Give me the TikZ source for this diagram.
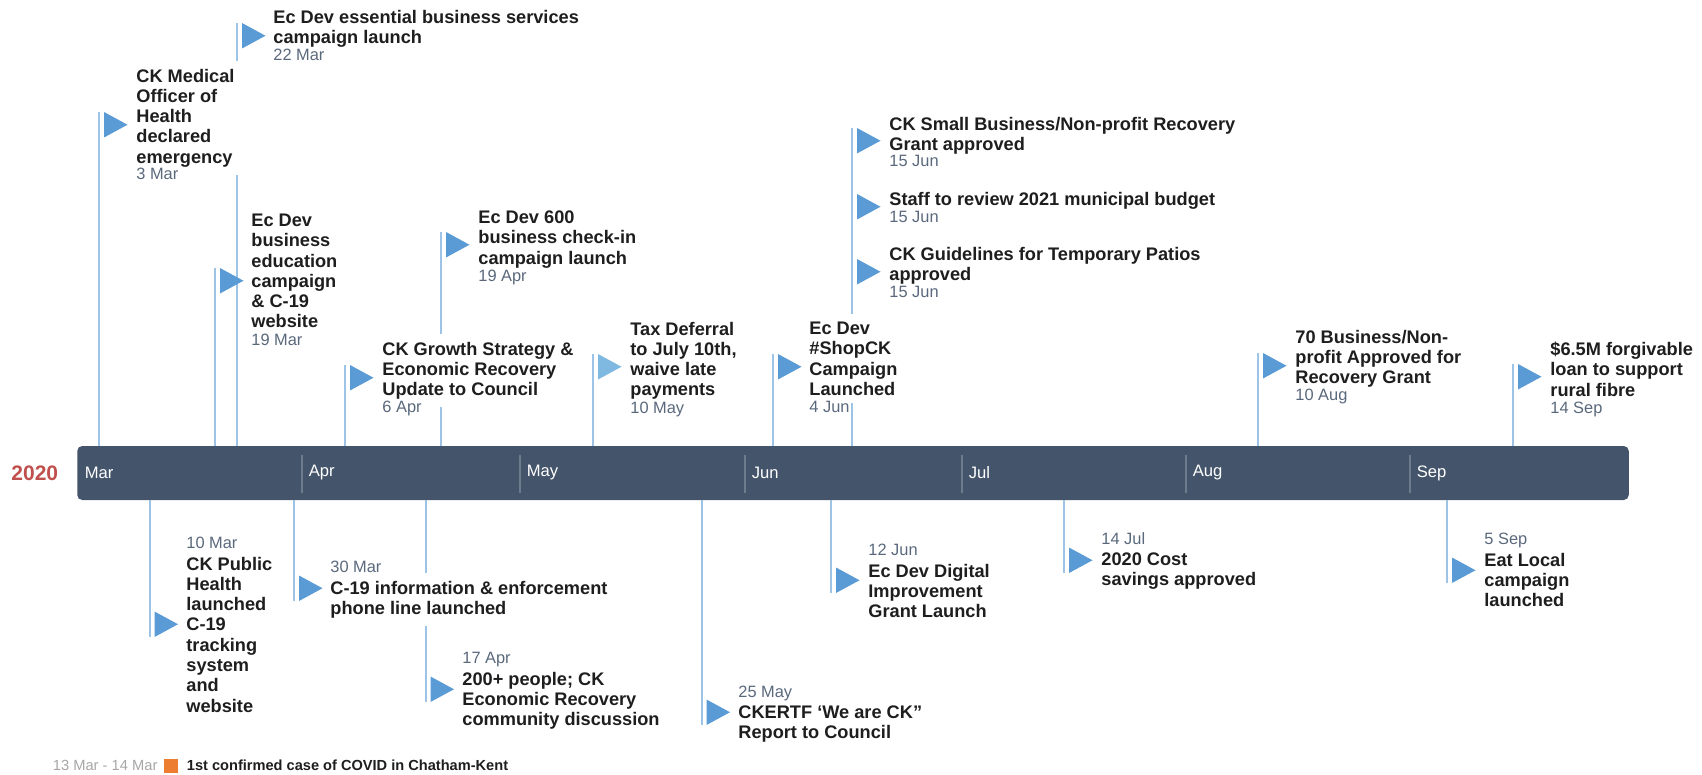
\documentclass[tikz,border=0pt]{standalone}
\usepackage{fontspec}
\setmainfont{Liberation Sans}
\usepackage{tikz}
\definecolor{barslate}{HTML}{44546A}
\definecolor{sepgray}{HTML}{6E7B8D}
\definecolor{yearred}{HTML}{C0504D}
\definecolor{stemblue}{HTML}{9DC3E6}
\definecolor{flagblue}{HTML}{5B9BD5}
\definecolor{flaglight}{HTML}{7FB8E0}
\definecolor{titleblack}{HTML}{1E1E1E}
\definecolor{dategray}{HTML}{5A687C}
\definecolor{legendgray}{HTML}{A6A6A6}
\definecolor{legendorange}{HTML}{ED7D31}

\begin{document}
\begin{tikzpicture}[x=0.5pt, y=-0.5pt]
\tikzstyle{barStyle} = [fill=barslate, rounded corners=2.5pt, minimum width=775.75pt, minimum height=27pt, inner sep=0pt]
\tikzstyle{sepStyle} = [line width=0.6pt, color=sepgray]
\tikzstyle{monthStyle} = [anchor=west, inner sep=0pt, text=white, font=\fontsize{8.3}{10}\selectfont]
\tikzstyle{yearStyle} = [anchor=west, inner sep=0pt, text=yearred, font=\fontsize{10.5}{12}\selectfont\bfseries]
\tikzstyle{stemStyle} = [line width=1pt, color=stemblue]
\tikzstyle{flagStyle} = [fill=flagblue]
\tikzstyle{taxFlagStyle} = [fill=flaglight]
\tikzstyle{titleStyle} = [anchor=north west, align=left, fill=white, inner xsep=3pt, inner ysep=3.75pt, text=titleblack, font=\fontsize{9.1}{10.15}\selectfont\bfseries]
\tikzstyle{dateStyle} = [anchor=west, inner sep=0pt, text height=6pt, text depth=1.5pt, text=dategray, font=\fontsize{8.2}{10}\selectfont]
\tikzstyle{legendDateStyle} = [anchor=west, inner sep=0pt, text=legendgray, font=\fontsize{7.35}{9}\selectfont]
\tikzstyle{legendBoxStyle} = [fill=legendorange, minimum size=7pt, inner sep=0pt]
\tikzstyle{legendStyle} = [anchor=west, inner sep=0pt, text=titleblack, font=\fontsize{7.3}{9}\selectfont\bfseries]
\useasboundingbox (0,0) rectangle (1702,775);
\node[barStyle] (bar) at (853,473) {};
\coordinate (f0) at (99,112);
\coordinate (f1) at (237,23);
\coordinate (f2) at (215,268);
\coordinate (f3) at (345,365);
\coordinate (f4) at (441,232);
\coordinate (f5) at (593,354);
\coordinate (f6) at (773,354);
\coordinate (f7) at (852,128);
\coordinate (f8) at (852,194);
\coordinate (f9) at (852,259);
\coordinate (f10) at (1258,353);
\coordinate (f11) at (1513,364);
\coordinate (f12) at (149.5,637);
\coordinate (f13) at (294,601);
\coordinate (f14) at (425.5,702);
\coordinate (f15) at (701.5,725);
\coordinate (f16) at (831,593);
\coordinate (f17) at (1064,573);
\coordinate (f18) at (1447,583);
\draw[stemStyle] (bar.north -| f0) -- (f0);
\draw[stemStyle] (bar.north -| f1) -- (f1);
\draw[stemStyle] (bar.north -| f2) -- (f2);
\draw[stemStyle] (bar.north -| f3) -- (f3);
\draw[stemStyle] (bar.north -| f4) -- (f4);
\draw[stemStyle] (bar.north -| f5) -- (f5);
\draw[stemStyle] (bar.north -| f6) -- (f6);
\draw[stemStyle] (bar.north -| f7) -- (f7);
\draw[stemStyle] (bar.north -| f10) -- (f10);
\draw[stemStyle] (bar.north -| f11) -- (f11);
\draw[stemStyle] (bar.south -| f12) -- (f12);
\draw[stemStyle] (bar.south -| f13) -- (f13);
\draw[stemStyle] (bar.south -| f14) -- (f14);
\draw[stemStyle] (bar.south -| f15) -- (f15);
\draw[stemStyle] (bar.south -| f16) -- (f16);
\draw[stemStyle] (bar.south -| f17) -- (f17);
\draw[stemStyle] (bar.south -| f18) -- (f18);
\draw[sepStyle] (302,455) -- (302,493);
\draw[sepStyle] (520,455) -- (520,493);
\draw[sepStyle] (745,455) -- (745,493);
\draw[sepStyle] (962,455) -- (962,493);
\draw[sepStyle] (1186,455) -- (1186,493);
\draw[sepStyle] (1410,455) -- (1410,493);
\node[monthStyle] (mMar) at (84.5,473) {Mar};
\node[monthStyle] (mApr) at (308.5,473) {Apr};
\node[monthStyle] (mMay) at (526.5,473) {May};
\node[monthStyle] (mJun) at (751.5,473) {Jun};
\node[monthStyle] (mJul) at (968.5,473) {Jul};
\node[monthStyle] (mAug) at (1192.5,473) {Aug};
\node[monthStyle] (mSep) at (1416.5,473) {Sep};
\node[yearStyle] (year) at (11,473) {2020};
\fill[flagStyle] (f0) ++(5,0) -- ++(23.5,12.75) -- ++(-23.5,12.75) -- cycle;
\fill[flagStyle] (f1) ++(5,0) -- ++(23.5,12.75) -- ++(-23.5,12.75) -- cycle;
\fill[flagStyle] (f2) ++(5,0) -- ++(23.5,12.75) -- ++(-23.5,12.75) -- cycle;
\fill[flagStyle] (f3) ++(5,0) -- ++(23.5,12.75) -- ++(-23.5,12.75) -- cycle;
\fill[flagStyle] (f4) ++(5,0) -- ++(23.5,12.75) -- ++(-23.5,12.75) -- cycle;
\fill[taxFlagStyle] (f5) ++(5,0) -- ++(23.5,12.75) -- ++(-23.5,12.75) -- cycle;
\fill[flagStyle] (f6) ++(5,0) -- ++(23.5,12.75) -- ++(-23.5,12.75) -- cycle;
\fill[flagStyle] (f7) ++(5,0) -- ++(23.5,12.75) -- ++(-23.5,12.75) -- cycle;
\fill[flagStyle] (f8) ++(5,0) -- ++(23.5,12.75) -- ++(-23.5,12.75) -- cycle;
\fill[flagStyle] (f9) ++(5,0) -- ++(23.5,12.75) -- ++(-23.5,12.75) -- cycle;
\fill[flagStyle] (f10) ++(5,0) -- ++(23.5,12.75) -- ++(-23.5,12.75) -- cycle;
\fill[flagStyle] (f11) ++(5,0) -- ++(23.5,12.75) -- ++(-23.5,12.75) -- cycle;
\fill[flagStyle] (f12) ++(5,0) -- ++(23.5,-12.75) -- ++(-23.5,-12.75) -- cycle;
\fill[flagStyle] (f13) ++(5,0) -- ++(23.5,-12.75) -- ++(-23.5,-12.75) -- cycle;
\fill[flagStyle] (f14) ++(5,0) -- ++(23.5,-12.75) -- ++(-23.5,-12.75) -- cycle;
\fill[flagStyle] (f15) ++(5,0) -- ++(23.5,-12.75) -- ++(-23.5,-12.75) -- cycle;
\fill[flagStyle] (f16) ++(5,0) -- ++(23.5,-12.75) -- ++(-23.5,-12.75) -- cycle;
\fill[flagStyle] (f17) ++(5,0) -- ++(23.5,-12.75) -- ++(-23.5,-12.75) -- cycle;
\fill[flagStyle] (f18) ++(5,0) -- ++(23.5,-12.75) -- ++(-23.5,-12.75) -- cycle;
\node[titleStyle] (t0) at (130,61) {CK Medical\\Officer of\\Health\\declared\\emergency};
\node[titleStyle] (t1) at (267,2) {Ec Dev essential business services\\campaign launch};
\node[titleStyle] (t2) at (245,206) {Ec Dev\\business\\education\\campaign\\\& C-19\\website};
\node[titleStyle] (t3) at (376,334) {CK Growth Strategy \&\\Economic Recovery\\Update to Council};
\node[titleStyle] (t4) at (472,203) {Ec Dev 600\\business check-in\\campaign launch};
\node[titleStyle] (t5) at (624,314) {Tax Deferral\\to July 10th,\\waive late\\payments};
\node[titleStyle] (t6) at (803,314) {Ec Dev\\\#ShopCK\\Campaign\\Launched};
\node[titleStyle] (t7) at (883,109) {CK Small Business/Non-profit Recovery\\Grant approved};
\node[titleStyle] (t8) at (883,184) {Staff to review 2021 municipal budget};
\node[titleStyle] (t9) at (883,239) {CK Guidelines for Temporary Patios\\approved};
\node[titleStyle] (t10) at (1289,322) {70 Business/Non-\\profit Approved for\\Recovery Grant};
\node[titleStyle] (t11) at (1544,334) {\$6.5M forgivable\\loan to support\\rural fibre};
\node[titleStyle] (t12) at (180,549) {CK Public\\Health\\launched\\C-19\\tracking\\system\\and\\website};
\node[titleStyle] (t13) at (324,573) {C-19 information \& enforcement\\phone line launched};
\node[titleStyle] (t14) at (456,664) {200+ people; CK\\Economic Recovery\\community discussion};
\node[titleStyle] (t15) at (732,698) {CKERTF ‘We are CK”\\Report to Council};
\node[titleStyle] (t16) at (862,556) {Ec Dev Digital\\Improvement\\Grant Launch};
\node[titleStyle] (t17) at (1095,545) {2020 Cost\\savings approved};
\node[titleStyle] (t18) at (1478,545) {Eat Local\\campaign\\launched};
\node[dateStyle] (d0) at (136,175.4) {3 Mar};
\node[dateStyle] (d1) at (273,56.4) {22 Mar};
\node[dateStyle] (d2) at (251,341.4) {19 Mar};
\node[dateStyle] (d3) at (382,408.4) {6 Apr};
\node[dateStyle] (d4) at (478,277.4) {19 Apr};
\node[dateStyle] (d5) at (630,409.4) {10 May};
\node[dateStyle] (d6) at (809,408.4) {4 Jun};
\node[dateStyle] (d7) at (889,162.4) {15 Jun};
\node[dateStyle] (d8) at (889,218.4) {15 Jun};
\node[dateStyle] (d9) at (889,293.4) {15 Jun};
\node[dateStyle] (d10) at (1295,396.4) {10 Aug};
\node[dateStyle] (d11) at (1550,409.4) {14 Sep};
\node[dateStyle] (d12) at (186,544.4) {10 Mar};
\node[dateStyle] (d13) at (330,568.4) {30 Mar};
\node[dateStyle] (d14) at (462,659.4) {17 Apr};
\node[dateStyle] (d15) at (738,693.4) {25 May};
\node[dateStyle] (d16) at (868,551.4) {12 Jun};
\node[dateStyle] (d17) at (1101,540.4) {14 Jul};
\node[dateStyle] (d18) at (1484,540.4) {5 Sep};
\node[legendDateStyle] (lgDate) at (52.5,765) {13 Mar - 14 Mar};
\node[legendBoxStyle] (lgBox) at (171,766) {};
\node[legendStyle] (lgText) at (186.5,765) {1st confirmed case of COVID in Chatham-Kent};
\end{tikzpicture}
\end{document}
